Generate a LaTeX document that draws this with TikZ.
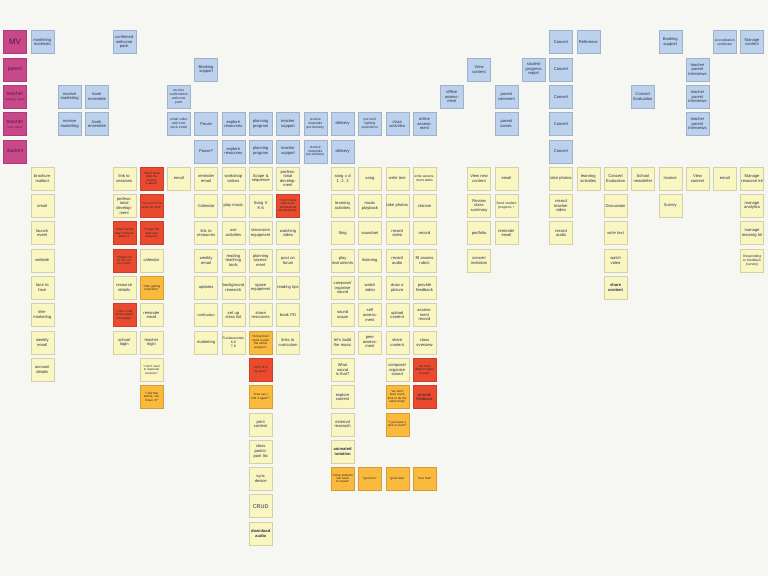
\documentclass[tikz,border=0pt]{standalone}
\usepackage{fontspec}
\setmainfont{Liberation Sans}
\definecolor{bg}{HTML}{F6F6F2}
\definecolor{magn}{HTML}{C8488A}
\definecolor{blun}{HTML}{BCD1EC}
\definecolor{yeln}{HTML}{F9F6C2}
\definecolor{redn}{HTML}{EA4A2E}
\definecolor{oran}{HTML}{F9BA3E}
\definecolor{ink}{HTML}{2A2F4A}
\tikzset{
  note/.style={minimum width=23pt, minimum height=23pt, text width=21.5pt, inner sep=0.75pt,
    align=center, text=ink, font=\fontsize{4.1}{4.6}\selectfont},
  mnote/.style={note, fill=magn, draw=magn!85!black, text=magn!40!black, font=\fontsize{5}{5.4}\selectfont},
  bnote/.style={note, fill=blun, draw=blun!85!black},
  ynote/.style={note, fill=yeln, draw=yeln!85!black},
  rnote/.style={note, fill=redn, draw=redn!85!black, text=black!85, font=\fontsize{3}{3.4}\selectfont},
  onote/.style={note, fill=oran, draw=oran!85!black, text=black!85, font=\fontsize{3}{3.4}\selectfont},
}
\begin{document}
\begin{tikzpicture}[x=27.3pt,y=-27.3pt]
\fill[bg] (-0.5495,-1.5385) rectangle (27.582,19.560);
\useasboundingbox (-0.5495,-1.5385) rectangle (27.582,19.560);
% personas
\node[mnote, font=\fontsize{8}{8}\selectfont] (m1) at (0,0) {MV};
\node[mnote] (m2) at (0,1) {parent};
\node[mnote] (m3) at (0,2) {teacher\\{\fontsize{3}{3.3}\selectfont existing users}};
\node[mnote] (m4) at (0,3) {teacher\\{\fontsize{3}{3.3}\selectfont new users}};
\node[mnote] (m5) at (0,4) {student};
% blue activities
\node[bnote] (b1) at (1,0) {marketing materials};
\node[bnote] (b2) at (4,0) {confirmed welcome pack};
\node[bnote] (b3) at (2,2) {receive marketing};
\node[bnote] (b4) at (3,2) {book ensemble};
\node[bnote] (b5) at (2,3) {receive marketing};
\node[bnote] (b6) at (3,3) {book ensemble};
\node[bnote, font=\fontsize{3.4}{3.9}\selectfont] (b7) at (6,2) {receive confirmation welcome pack};
\node[bnote, font=\fontsize{3.4}{3.9}\selectfont] (b8) at (6,3) {email video welcome pack email};
\node[bnote] (b9) at (7,1) {Booking support};
\node[bnote] (b10) at (7,3) {Pause};
\node[bnote] (b11) at (8,3) {explore resources};
\node[bnote] (b12) at (9,3) {planning program};
\node[bnote] (b13) at (10,3) {teacher support};
\node[bnote, font=\fontsize{3.4}{3.9}\selectfont] (b14) at (11,3) {receive materials pre-delivery};
\node[bnote] (b15) at (12,3) {delivery};
\node[bnote, font=\fontsize{3.4}{3.9}\selectfont] (b16) at (13,3) {pre-tech lighting experience};
\node[bnote] (b17) at (7,4) {Pause?};
\node[bnote] (b18) at (8,4) {explore resources};
\node[bnote] (b19) at (9,4) {planning program};
\node[bnote] (b20) at (10,4) {teacher support};
\node[bnote, font=\fontsize{3.4}{3.9}\selectfont] (b21) at (11,4) {receive materials pre-delivery};
\node[bnote] (b22) at (12,4) {delivery};
\node[bnote] (b23) at (14,3) {class activities};
\node[bnote] (b24) at (15,3) {online assess\-ment};
\node[bnote] (b25) at (16,2) {offline assess\-ment};
\node[bnote] (b26) at (17,1) {View content};
\node[bnote] (b27) at (18,2) {parent comment};
\node[bnote] (b28) at (18,3) {parent comm.};
\node[bnote] (b29) at (19,1) {student progress report};
\node[bnote] (b30) at (20,0) {Concert};
\node[bnote] (b31) at (20,1) {Concert};
\node[bnote] (b32) at (20,2) {Concert};
\node[bnote] (b33) at (20,3) {Concert};
\node[bnote] (b34) at (20,4) {Concert};
\node[bnote] (b35) at (21,0) {Reference};
\node[bnote] (b36) at (23,2) {Concert Evaluation};
\node[bnote] (b37) at (24,0) {Booking support};
\node[bnote] (b38) at (25,1) {teacher parent interviews};
\node[bnote] (b39) at (25,2) {teacher parent interviews};
\node[bnote] (b40) at (25,3) {teacher parent interviews};
\node[bnote, font=\fontsize{3.4}{3.9}\selectfont] (b41) at (26,0) {Accreditation certificate};
\node[bnote] (b42) at (27,0) {Manage content};
% column 1
\node[ynote] (y1) at (1,5) {brochure mailout};
\node[ynote] (y2) at (1,6) {email};
\node[ynote] (y3) at (1,7) {launch event};
\node[ynote] (y4) at (1,8) {website};
\node[ynote] (y5) at (1,9) {face to face};
\node[ynote] (y6) at (1,10) {tele\-marketing};
\node[ynote] (y7) at (1,11) {weekly email};
\node[ynote] (y8) at (1,12) {account details};
% column 4
\node[ynote] (y9) at (4,5) {link to sessions};
\node[ynote] (y10) at (4,6) {profess\-ional develop\-ment};
\node[rnote] (r1) at (4,7) {``some friends may not know about it''};
\node[rnote] (r2) at (4,8) {``maybe not for me, it's too much''};
\node[ynote] (y11) at (4,9) {resource details};
\node[rnote] (r3) at (4,10) {``I don't read all the emails thoroughly''};
\node[ynote] (y12) at (4,11) {school login};
% column 5
\node[rnote] (r4) at (5,5) {``I don't know what the session is about''};
\node[rnote] (r5) at (5,6) {``not sure if it is worth my time''};
\node[rnote] (r6) at (5,7) {``I forgot the date and missed it''};
\node[ynote] (y13) at (5,8) {calendar};
\node[onote] (o1) at (5,9) {``I like getting reminders''};
\node[ynote] (y14) at (5,10) {reminder email};
\node[ynote] (y15) at (5,11) {teacher login};
\node[ynote, font=\fontsize{3}{3.4}\selectfont] (y16) at (5,12) {``I don't want to duplicate sessions''};
\node[onote] (o2) at (5,13) {``I did that before, can I have it?''};
\node[ynote] (y17) at (6,5) {email};
% column 7
\node[ynote] (y18) at (7,5) {reminder email};
\node[ynote] (y19) at (7,6) {Calendar};
\node[ynote] (y20) at (7,7) {link to resources};
\node[ynote] (y21) at (7,8) {weekly email};
\node[ynote] (y22) at (7,9) {updates};
\node[ynote, font=\fontsize{3.6}{4.1}\selectfont] (y23) at (7,10) {notification};
\node[ynote] (y24) at (7,11) {marketing};
% column 8
\node[ynote] (y25) at (8,5) {workshop videos};
\node[ynote] (y26) at (8,6) {play music};
\node[ynote] (y27) at (8,7) {use activities};
\node[ynote] (y28) at (8,8) {reading teaching tools};
\node[ynote] (y29) at (8,9) {back\-ground research};
\node[ynote] (y30) at (8,10) {set up class list};
\node[ynote, font=\fontsize{3.4}{3.9}\selectfont] (y31) at (8,11) {Fundamentals K-6\\ 7-8};
% column 9
\node[ynote] (y32) at (9,5) {Scope \& sequence};
\node[ynote] (y33) at (9,6) {Song X\\ K-6};
\node[ynote] (y34) at (9,7) {classroom equip\-ment};
\node[ynote] (y35) at (9,8) {planning assess\-ment};
\node[ynote] (y36) at (9,9) {space equip\-ment};
\node[ynote] (y37) at (9,10) {share resources};
\node[onote] (o3) at (9,11) {``I know that I need to plan the whole program''};
\node[rnote] (r7) at (9,12) {``will it fit in my plan?''};
\node[onote] (o4) at (9,13) {``how can I find it again?''};
\node[ynote] (y38) at (9,14) {print content};
\node[ynote] (y39) at (9,15) {class partici\-pant list};
\node[ynote] (y40) at (9,16) {sync device};
\node[ynote, font=\fontsize{5.5}{5.5}\selectfont] (y41) at (9,17) {CRUD};
\node[ynote, font=\bfseries\fontsize{4.1}{4.6}\selectfont] (y42) at (9,18) {download audio};
% column 10
\node[ynote] (y43) at (10,5) {profess\-ional develop\-ment};
\node[rnote] (r8) at (10,6) {``I don't have time to do professional development''};
\node[ynote] (y44) at (10,7) {watching video};
\node[ynote] (y45) at (10,8) {post on forum};
\node[ynote] (y46) at (10,9) {reading tips};
\node[ynote] (y47) at (10,10) {book PD};
\node[ynote] (y48) at (10,11) {links to curri\-culum};
% column 12
\node[ynote] (y49) at (12,5) {song x d\\ 1, 2, 3};
\node[ynote] (y50) at (12,6) {learning activities};
\node[ynote] (y51) at (12,7) {Sing};
\node[ynote] (y52) at (12,8) {play instru\-ments};
\node[ynote] (y53) at (12,9) {compose/ organise sound};
\node[ynote] (y54) at (12,10) {sound scape};
\node[ynote] (y55) at (12,11) {let's build the music};
\node[ynote] (y56) at (12,12) {What sound is that?};
\node[ynote] (y57) at (12,13) {explore content};
\node[ynote] (y58) at (12,14) {external research};
\node[ynote, font=\bfseries\fontsize{4.1}{4.6}\selectfont] (y59) at (12,15) {animated notation};
\node[onote] (o5) at (12,16) {``some students will need to repeat''};
% column 13
\node[ynote] (y60) at (13,5) {song};
\node[ynote] (y61) at (13,6) {music playback};
\node[ynote] (y62) at (13,7) {soundset};
\node[ynote] (y63) at (13,8) {listening};
\node[ynote] (y64) at (13,9) {watch video};
\node[ynote] (y65) at (13,10) {self assess\-ment};
\node[ynote] (y66) at (13,11) {peer assess\-ment};
\node[onote] (o6) at (13,16) {``good fun''};
% column 14
\node[ynote] (y67) at (14,5) {write text};
\node[ynote] (y68) at (14,6) {take photos};
\node[ynote] (y69) at (14,7) {record video};
\node[ynote] (y70) at (14,8) {record audio};
\node[ynote] (y71) at (14,9) {draw a picture};
\node[ynote] (y72) at (14,10) {upload content};
\node[ynote] (y73) at (14,11) {share content};
\node[ynote] (y74) at (14,12) {compose/ organise sound};
\node[onote] (o7) at (14,13) {``we don't have much time to do the same thing''};
\node[onote] (o8) at (14,14) {``I just want a click or touch''};
\node[onote] (o9) at (14,16) {``good idea''};
% column 15
\node[ynote, font=\fontsize{3.4}{3.9}\selectfont] (y75) at (15,5) {write assessment tasks};
\node[ynote] (y76) at (15,6) {choose};
\node[ynote] (y77) at (15,7) {record};
\node[ynote] (y78) at (15,8) {fill assess rubric};
\node[ynote] (y79) at (15,9) {provide feedback};
\node[ynote] (y80) at (15,10) {assess\-ment record};
\node[ynote] (y81) at (15,11) {class overview};
\node[rnote] (r9) at (15,12) {``we have different types of work''};
\node[rnote, font=\fontsize{4}{4.5}\selectfont] (r10) at (15,13) {provide feedback};
\node[onote] (o10) at (15,16) {``love that''};
% column 17-18
\node[ynote] (y82) at (17,5) {View new content};
\node[ynote] (y83) at (17,6) {Review class summary};
\node[ynote] (y84) at (17,7) {portfolio};
\node[ynote] (y85) at (17,8) {concert invitation};
\node[ynote] (y86) at (18,5) {email};
\node[ynote, font=\fontsize{3.4}{3.9}\selectfont] (y87) at (18,6) {Send student progress +};
\node[ynote] (y88) at (18,7) {reminder email};
% column 20+
\node[ynote] (y89) at (20,5) {take photos};
\node[ynote] (y90) at (20,6) {record teacher video};
\node[ynote] (y91) at (20,7) {record audio};
\node[ynote] (y92) at (21,5) {learning activities};
\node[ynote] (y93) at (22,5) {Concert Evaluation};
\node[ynote] (y94) at (22,6) {Discussion};
\node[ynote] (y95) at (22,7) {write text};
\node[ynote] (y96) at (22,8) {watch video};
\node[ynote, font=\bfseries\fontsize{4.1}{4.6}\selectfont] (y97) at (22,9) {share content};
\node[ynote] (y98) at (23,5) {School newsletter};
\node[ynote] (y99) at (24,5) {Invoice};
\node[ynote] (y100) at (24,6) {Survey};
\node[ynote] (y101) at (25,5) {View content};
\node[ynote] (y102) at (26,5) {email};
\node[ynote] (y103) at (27,5) {Manage resource kit};
\node[ynote] (y104) at (27,6) {manage analytics};
\node[ynote] (y105) at (27,7) {manage learning kit};
\node[ynote, font=\fontsize{3.4}{3.9}\selectfont] (y106) at (27,8) {Responding to feedback (survey)};
\end{tikzpicture}
\end{document}
